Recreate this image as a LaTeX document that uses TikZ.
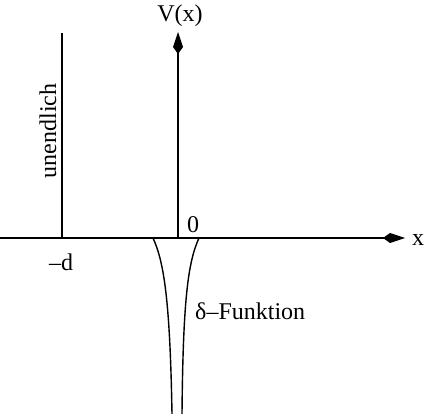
\documentclass[tikz,border=0pt]{standalone}
\usepackage{fontspec}
\setmainfont{Liberation Serif}
\usetikzlibrary{arrows.meta}
\begin{document}
\begin{tikzpicture}[x=1pt,y=-1pt,
  lbl/.style={inner sep=0pt,font=\fontsize{24}{28}\selectfont},
  ln/.style={line width=1.4pt},
  axarrow/.style={ln,-{Kite[length=22pt,width=10pt,inset=7pt]}}]
\useasboundingbox (0,0) rectangle (428,414);
\coordinate (xs) at (0,238);
\coordinate (xe) at (405,238);
\coordinate (o) at (178,238);
\coordinate (ye) at (178,32);
\coordinate (wt) at (62,33);
\coordinate (wb) at (62,238);
\coordinate (dl) at (153,238);
\coordinate (dlb) at (172,414);
\coordinate (dr) at (199,238);
\coordinate (drb) at (182,414);
\draw[axarrow] (xs) -- (xe);
\draw[axarrow] (o) -- (ye);
\draw[ln] (wb) -- (wt);
\draw[ln] (dl) .. controls (164,262) and (170,300) .. (dlb);
\draw[ln] (dr) .. controls (188,262) and (183,300) .. (drb);
\node[lbl] (vx) at (180,16) {V(x)};
\node[lbl] (xl) at (418,240) {x};
\node[lbl] (zero) at (193,225) {0};
\node[lbl] (md) at (61,262) {–d};
\node[lbl,rotate=90] (un) at (48,131) {unendlich};
\node[lbl,anchor=west] (df) at (195,311) {δ–Funktion};
\end{tikzpicture}
\end{document}
